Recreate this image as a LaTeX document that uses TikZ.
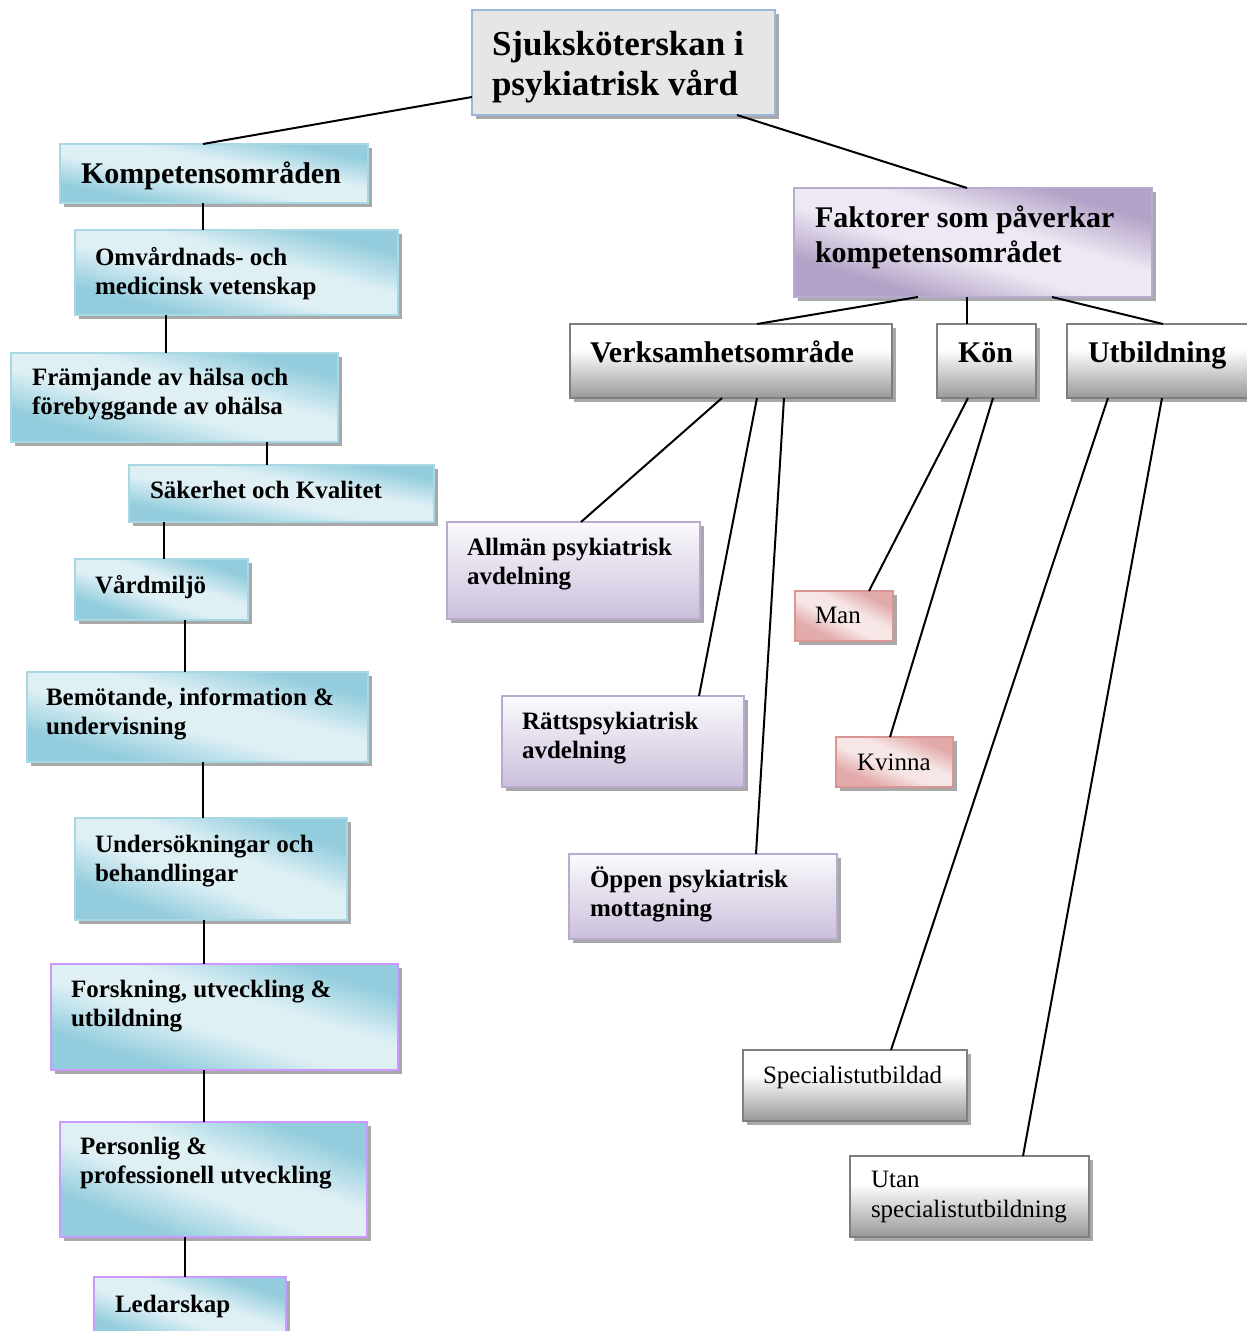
\documentclass[tikz,border=0pt]{standalone}
\usepackage{fontspec}
\setmainfont{Liberation Serif}
\usetikzlibrary{shadows}
\definecolor{tealD}{HTML}{93CDDD}
\definecolor{tealL}{HTML}{DFF0F5}
\definecolor{tealB}{HTML}{A8D8E4}
\definecolor{purpD}{HTML}{B3A2C7}
\definecolor{purpL}{HTML}{EDE8F3}
\definecolor{lilT}{HTML}{FBFAFD}
\definecolor{lilB}{HTML}{CBBFDB}
\definecolor{lilBorder}{HTML}{B9AACF}
\definecolor{pinkD}{HTML}{E2ABAA}
\definecolor{pinkL}{HTML}{F7E6E6}
\definecolor{pinkBorder}{HTML}{D99694}
\definecolor{grayB}{HTML}{999999}
\definecolor{grayBorder}{HTML}{7F7F7F}
\definecolor{titleFill}{HTML}{E6E6E6}
\definecolor{titleBorder}{HTML}{9BB7DB}
\definecolor{violetBorder}{HTML}{CC99FF}
\definecolor{shadowC}{HTML}{A8A8A8}
\pgfdeclareverticalshading{tealsh}{100bp}{color(0bp)=(tealD); color(30bp)=(tealD); color(45bp)=(tealL); color(57bp)=(tealL); color(72bp)=(tealD); color(100bp)=(tealD)}
\pgfdeclareverticalshading{purpsh}{100bp}{color(0bp)=(purpD); color(30bp)=(purpD); color(45bp)=(purpL); color(57bp)=(purpL); color(72bp)=(purpD); color(100bp)=(purpD)}
\pgfdeclareverticalshading{pinksh}{100bp}{color(0bp)=(pinkD); color(30bp)=(pinkD); color(45bp)=(pinkL); color(57bp)=(pinkL); color(72bp)=(pinkD); color(100bp)=(pinkD)}
\pgfdeclareverticalshading{lilsh}{100bp}{color(0bp)=(lilB); color(25bp)=(lilB); color(75bp)=(lilT); color(100bp)=(lilT)}
\pgfdeclareverticalshading{graysh}{100bp}{color(0bp)=(grayB); color(25bp)=(grayB); color(58bp)=(white); color(100bp)=(white)}
\newcommand\ftitle{\fontsize{35}{40}\selectfont\bfseries}
\newcommand\fbig{\fontsize{30}{35}\selectfont\bfseries}
\newcommand\fmid{\fontsize{25}{29}\selectfont\bfseries}
\newcommand\freg{\fontsize{25}{30}\selectfont}
\newcommand\mkbox[6]{\pgfmathsetmacro\shang{-atan((#6-#4)/(#5-#3))}%
  \node[#1, minimum width={(#5-#3)*1pt}, minimum height={(#6-#4)*1pt}] (#2) at (#3,#4) {};}
\newcommand\mktxt[6]{\node[txt, font=#2] (#1) at (#3,{#4-#5}) {\rule{0pt}{#5pt}#6};}
\newcommand\conn[4]{\draw[conn] ([xshift=#2pt]#1.south west) -- ([xshift=#4pt]#3.north west);}
\begin{document}
\begin{tikzpicture}[x=1pt,y=-1pt,
  box/.style={draw, line width=2pt, inner sep=0pt, outer sep=0pt, anchor=north west,
    drop shadow={shadow xshift=4pt, shadow yshift=-4pt, fill=shadowC, opacity=1}},
  tealbox/.style={box, draw=tealB, shading=tealsh, shading angle=\shang},
  violetbox/.style={box, draw=violetBorder, shading=tealsh, shading angle=\shang},
  purplebox/.style={box, draw=lilBorder, shading=purpsh, shading angle=\shang},
  pinkbox/.style={box, draw=pinkBorder, shading=pinksh, shading angle=\shang},
  lilacbox/.style={box, draw=lilBorder, shading=lilsh},
  graybox/.style={box, draw=grayBorder, line width=2.5pt, shading=graysh},
  titlebox/.style={box, draw=titleBorder, line width=2.5pt, fill=titleFill},
  txt/.style={anchor=north west, inner sep=0pt, outer sep=0pt, align=left, text=black},
  conn/.style={draw=black, line width=2pt}]
\fill[white] (0,0) rectangle (1247,1331);
\useasboundingbox (0,0) rectangle (1247,1331);
% boxes
\mkbox{titlebox}{title}{472}{10}{775}{115}
\mkbox{tealbox}{komp}{60}{144}{368}{203}
\mkbox{tealbox}{omv}{75}{230}{398}{315}
\mkbox{tealbox}{fram}{11}{353}{338}{442}
\mkbox{tealbox}{sak}{129}{465}{434}{522}
\mkbox{tealbox}{vard}{75}{559}{248}{620}
\mkbox{tealbox}{bem}{27}{672}{368}{762}
\mkbox{tealbox}{und}{75}{818}{347}{920}
\mkbox{violetbox}{fors}{51}{964}{398}{1070}
\mkbox{violetbox}{pers}{60}{1122}{367}{1237}
\mkbox{violetbox}{led}{94}{1277}{286}{1345}
\mkbox{purplebox}{fakt}{794}{188}{1152}{297}
\mkbox{graybox}{verk}{570}{324}{892}{398}
\mkbox{graybox}{kon}{937}{324}{1036}{398}
\mkbox{graybox}{utb}{1067}{324}{1252}{398}
\mkbox{lilacbox}{allm}{447}{522}{700}{619}
\mkbox{lilacbox}{ratt}{502}{696}{744}{787}
\mkbox{lilacbox}{oppen}{569}{854}{837}{939}
\mkbox{pinkbox}{man}{795}{591}{893}{641}
\mkbox{pinkbox}{kvin}{836}{737}{953}{787}
\mkbox{graybox}{spec}{743}{1050}{967}{1121}
\mkbox{graybox}{utan}{850}{1156}{1089}{1237}
% texts
\mktxt{titlet}{\ftitle}{492}{55}{32}{Sjuksköterskan i\\psykiatrisk vård}
\mktxt{kompt}{\fbig}{81}{183}{28}{Kompetensområden}
\mktxt{omvt}{\fmid}{95}{265}{23}{Omvårdnads- och\\medicinsk vetenskap}
\mktxt{framt}{\fmid}{32}{385}{23}{Främjande av hälsa och\\förebyggande av ohälsa}
\mktxt{sakt}{\fmid}{150}{498}{23}{Säkerhet och Kvalitet}
\mktxt{vardt}{\fmid}{95}{593}{23}{Vårdmiljö}
\mktxt{bemt}{\fmid}{46}{705}{23}{Bemötande, information \&\\undervisning}
\mktxt{undt}{\fmid}{95}{852}{23}{Undersökningar och\\behandlingar}
\mktxt{forst}{\fmid}{71}{997}{23}{Forskning, utveckling \&\\utbildning}
\mktxt{perst}{\fmid}{80}{1154}{23}{Personlig \&\\professionell utveckling}
\mktxt{ledt}{\fmid}{115}{1312}{23}{Ledarskap}
\mktxt{faktt}{\fbig}{815}{227}{28}{Faktorer som påverkar\\kompetensområdet}
\mktxt{verkt}{\fbig}{590}{362}{28}{Verksamhetsområde}
\mktxt{kont}{\fbig}{958}{362}{28}{Kön}
\mktxt{utbt}{\fbig}{1088}{362}{28}{Utbildning}
\mktxt{allmt}{\fmid}{467}{555}{23}{Allmän psykiatrisk\\avdelning}
\mktxt{rattt}{\fmid}{522}{729}{23}{Rättspsykiatrisk\\avdelning}
\mktxt{oppent}{\fmid}{590}{887}{23}{Öppen psykiatrisk\\mottagning}
\mktxt{mant}{\freg}{815}{623}{23}{Man}
\mktxt{kvint}{\freg}{857}{770}{23}{Kvinna}
\mktxt{spect}{\freg}{763}{1083}{23}{Specialistutbildad}
\mktxt{utant}{\freg}{871}{1187}{23}{Utan\\specialistutbildning}
% connectors
\draw[conn] ([yshift=18pt]title.south west) -- ([xshift=143pt]komp.north west);
\draw[conn] ([xshift=265pt]title.south west) -- ([xshift=173pt]fakt.north west);
\conn{komp}{143}{omv}{128}
\conn{omv}{91}{fram}{155}
\conn{fram}{256}{sak}{138}
\conn{sak}{35}{vard}{89}
\conn{vard}{110}{bem}{158}
\conn{bem}{176}{und}{128}
\conn{und}{129}{fors}{153}
\conn{fors}{153}{pers}{144}
\conn{pers}{125}{led}{91}
\conn{fakt}{124}{verk}{187}
\conn{fakt}{173}{kon}{30}
\conn{fakt}{258}{utb}{96}
\conn{verk}{152}{allm}{134}
\conn{verk}{187}{ratt}{197}
\conn{verk}{214}{oppen}{187}
\conn{kon}{31}{man}{74}
\conn{kon}{56}{kvin}{54}
\conn{utb}{41}{spec}{148}
\conn{utb}{95}{utan}{173}
\end{tikzpicture}
\end{document}
